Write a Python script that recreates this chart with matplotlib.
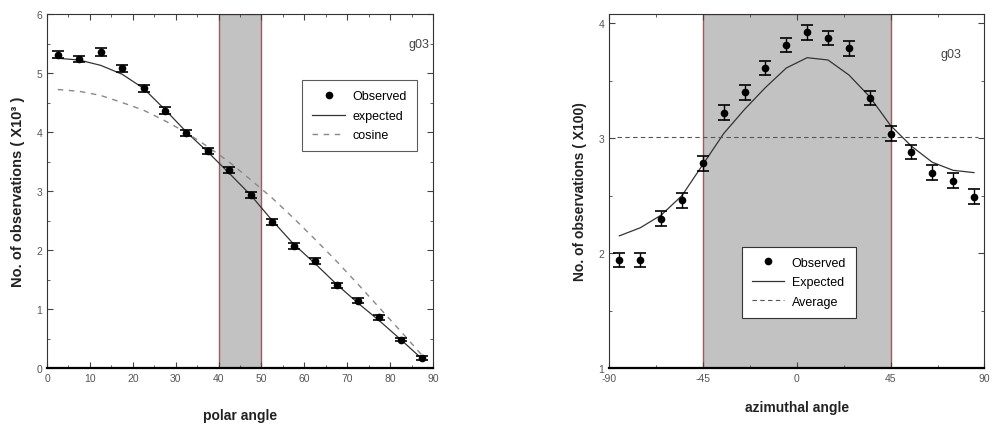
import matplotlib.pyplot as plt
from matplotlib.lines import Line2D
from matplotlib.ticker import MultipleLocator

plt.rcParams['font.family'] = ['Liberation Sans', 'DejaVu Sans']
plt.rcParams['axes.unicode_minus'] = False

# polar angle panel
polar = [2.5, 7.5, 12.5, 17.5, 22.5, 27.5, 32.5, 37.5, 42.5,
         47.5, 52.5, 57.5, 62.5, 67.5, 72.5, 77.5, 82.5, 87.5]
polar_obs = [5.31, 5.24, 5.35, 5.08, 4.74, 4.36, 3.98, 3.68, 3.36,
             2.93, 2.47, 2.07, 1.81, 1.40, 1.14, 0.86, 0.48, 0.17]
polar_err = [0.06, 0.05, 0.07, 0.06, 0.06, 0.06, 0.05, 0.05, 0.05,
             0.05, 0.05, 0.05, 0.05, 0.04, 0.04, 0.04, 0.03, 0.03]
polar_exp = [5.25, 5.22, 5.13, 4.98, 4.74, 4.38, 4.00, 3.66, 3.30,
             2.93, 2.50, 2.10, 1.77, 1.42, 1.10, 0.80, 0.48, 0.15]
polar_cos = [4.72, 4.69, 4.62, 4.50, 4.37, 4.19, 3.99, 3.75, 3.49,
             3.19, 2.88, 2.54, 2.18, 1.81, 1.42, 1.02, 0.62, 0.21]

# azimuthal angle panel
azim = [-85, -75, -65, -55, -45, -35, -25, -15, -5,
        5, 15, 25, 35, 45, 55, 65, 75, 85]
azim_obs = [1.94, 1.94, 2.30, 2.46, 2.78, 3.22, 3.40, 3.61, 3.81,
            3.92, 3.87, 3.78, 3.35, 3.04, 2.88, 2.70, 2.63, 2.49]
azim_err = [0.064] * 18
azim_exp = [2.15, 2.22, 2.33, 2.50, 2.77, 3.04, 3.25, 3.44, 3.61,
            3.70, 3.68, 3.55, 3.36, 3.11, 2.93, 2.79, 2.72, 2.70]
azim_avg = 3.01

fig = plt.figure(figsize=(9.96, 4.35), dpi=100)
ax1 = fig.add_axes([0.0472, 0.1517, 0.3876, 0.8138])
ax2 = fig.add_axes([0.6114, 0.1517, 0.377, 0.8138])


def style(ax):
    ax.tick_params(which='both', direction='in', top=True, right=True,
                   labelsize=7.5, labelcolor='#555555', color='#444444')
    ax.tick_params(which='major', length=4)
    ax.tick_params(which='minor', length=2)
    for s in ax.spines.values():
        s.set_linewidth(0.8)
        s.set_color('#333333')
    ax.spines['bottom'].set_linewidth(1.6)
    ax.spines['bottom'].set_color('black')


dot = Line2D([], [], marker='o', ls='none', color='black', ms=4.5)

# left
ax1.axvspan(40, 50, facecolor='#c2c2c2', edgecolor='#a05a5a', lw=1.0, zorder=0)
ax1.plot(polar, polar_exp, color='#333333', lw=0.9, label='expected')
ax1.plot(polar, polar_cos, color='#888888', lw=1.0, ls=(0, (4, 4)), label='cosine')
ax1.errorbar(polar, polar_obs, yerr=polar_err, fmt='o', color='black', ms=4.5,
             capsize=4, elinewidth=1.0, capthick=1.2)
ax1.set_xlim(0, 90)
ax1.set_ylim(0, 6)
ax1.xaxis.set_major_locator(MultipleLocator(10))
ax1.xaxis.set_minor_locator(MultipleLocator(5))
ax1.yaxis.set_major_locator(MultipleLocator(1))
ax1.yaxis.set_minor_locator(MultipleLocator(0.5))
style(ax1)
ax1.set_xlabel('polar angle', fontsize=10, fontweight='bold', color='#222222', labelpad=18)
ax1.set_ylabel('No. of observations ( X10\u00b3 )', fontsize=10.5, fontweight='bold',
               color='#222222', labelpad=8)
ax1.text(0.99, 0.915, 'g03', transform=ax1.transAxes, ha='right', va='center',
         fontsize=9, color='#444444')
h, l = ax1.get_legend_handles_labels()
leg1 = ax1.legend([dot] + h, ['Observed'] + l, loc='upper left',
                  bbox_to_anchor=(0.645, 0.83), fontsize=9, frameon=True,
                  fancybox=False, edgecolor='#333333', handlelength=2.6,
                  borderpad=0.8, labelspacing=0.6, handletextpad=0.6)
leg1.get_frame().set_linewidth(0.8)

# right
ax2.axvspan(-45, 45, facecolor='#c2c2c2', edgecolor='#a05a5a', lw=1.0, zorder=0)
ax2.plot(azim, azim_exp, color='#333333', lw=0.9, label='Expected')
ax2.plot([azim[0] - 1, azim[-1] + 2], [azim_avg, azim_avg], color='#555555', lw=0.8,
         ls=(0, (4, 3)), label='Average')
ax2.errorbar(azim, azim_obs, yerr=azim_err, fmt='o', color='black', ms=4.5,
             capsize=4.5, elinewidth=1.0, capthick=1.2)
ax2.set_xlim(-90, 90)
ax2.set_ylim(1, 4.08)
ax2.set_xticks([-90, -45, 0, 45, 90])
ax2.xaxis.set_minor_locator(MultipleLocator(22.5))
ax2.yaxis.set_major_locator(MultipleLocator(1))
ax2.yaxis.set_minor_locator(MultipleLocator(0.5))
style(ax2)
ax2.set_xlabel('azimuthal angle', fontsize=10, fontweight='bold', color='#222222', labelpad=12)
ax2.set_ylabel('No. of observations ( X100)', fontsize=10, fontweight='bold',
               color='#222222', labelpad=8)
ax2.text(0.91, 0.887, 'g03', transform=ax2.transAxes, ha='center', va='center',
         fontsize=9, color='#444444')
h, l = ax2.get_legend_handles_labels()
leg2 = ax2.legend([dot] + h, ['Observed'] + l, loc='upper left',
                  bbox_to_anchor=(0.337, 0.36), fontsize=9, frameon=True,
                  fancybox=False, edgecolor='#333333', handlelength=2.6,
                  borderpad=0.8, labelspacing=0.6, handletextpad=0.6, framealpha=1)
leg2.get_frame().set_linewidth(0.8)

fig.savefig('out.png', dpi=100)
